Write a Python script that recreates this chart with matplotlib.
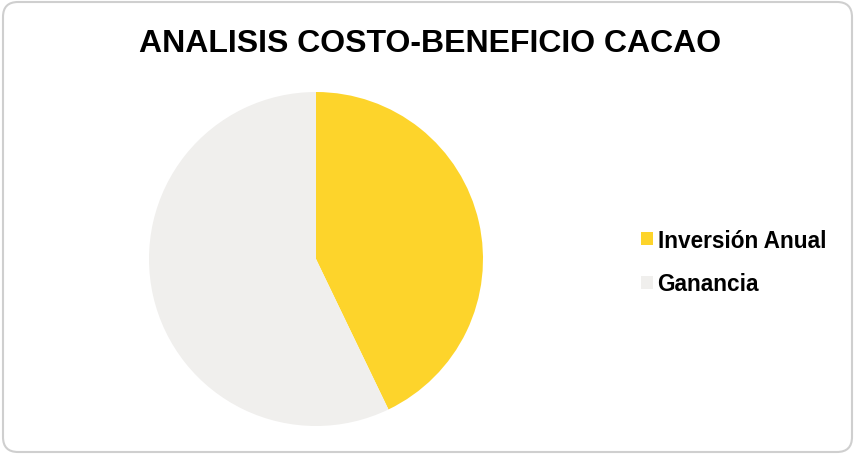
import matplotlib.pyplot as plt
from matplotlib.patches import FancyBboxPatch

labels = ['Inversión Anual', 'Ganancia']
values = [3000, 4000]
colors = ['#FDD42B', '#F0EFED']

plt.rcParams['font.family'] = ['Liberation Sans', 'DejaVu Sans']

fig = plt.figure(figsize=(8.55, 4.56), dpi=100)
W, H = 855, 456

# rounded frame (about 15 px corner radius)
frame = FancyBboxPatch((3 / W, 3 / H), 1 - 6 / W, 1 - 6 / H,
                       boxstyle='round,pad=0,rounding_size=%f' % (15 / W),
                       mutation_aspect=W / H,
                       transform=fig.transFigure, facecolor='none',
                       edgecolor='#CFCFCF', linewidth=1.5, zorder=-1)
fig.patches.append(frame)

# pie centre (316, 260), radius 167 px
cx, cy, r = 316, 260, 167
ax = fig.add_axes([(cx - r) / W, 1 - (cy + r) / H, 2 * r / W, 2 * r / H])
wedges, _ = ax.pie(values, colors=colors, startangle=90, counterclock=False,
                   radius=1.0, wedgeprops=dict(linewidth=0))
ax.set_xlim(-1, 1)
ax.set_ylim(-1, 1)
ax.set_aspect('equal')
ax.axis('off')

fig.text(430 / W, 1 - 44 / H, 'ANALISIS COSTO-BENEFICIO CACAO',
         ha='center', va='center', fontsize=23, fontweight='bold')

fig.legend(wedges, labels, loc='center left',
           bbox_to_anchor=(641 / W, 1 - 263 / H), frameon=False,
           borderpad=0, borderaxespad=0,
           prop=dict(size=16.3, weight='bold'), handlelength=0.53,
           handleheight=0.5, handletextpad=0.2, labelspacing=0.9)

fig.savefig('out.png', dpi=100)
